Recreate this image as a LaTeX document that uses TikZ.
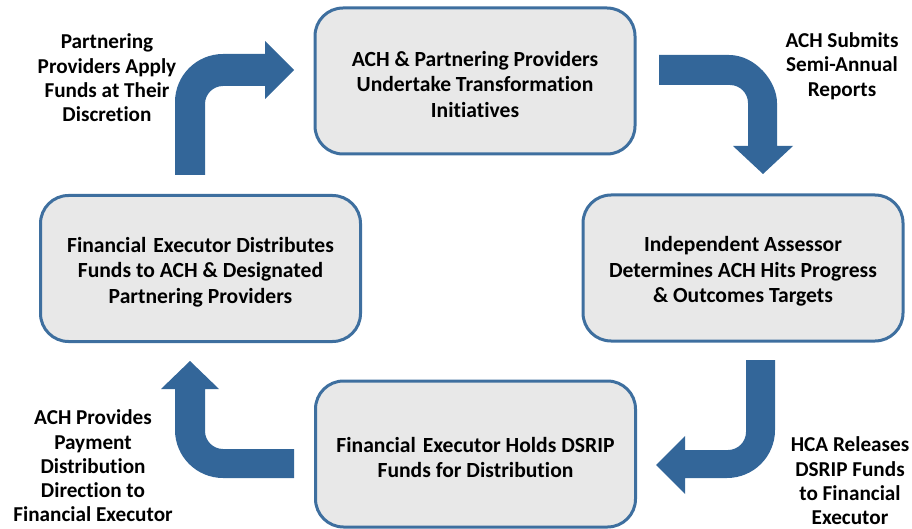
\documentclass[tikz,border=0pt]{standalone}
\usepackage{fontspec}
\setmainfont{Carlito}[Ligatures=NoCommon]
\definecolor{arrowblue}{HTML}{336699}
\definecolor{boxline}{HTML}{3E6F9F}
\definecolor{boxfill}{HTML}{E8E8E8}
\begin{document}
\begin{tikzpicture}[x=1pt,y=-1pt,
  stepbox/.style={draw=boxline, fill=boxfill, line width=3pt, rounded corners=28pt,
    minimum width=320pt, minimum height=146pt, inner sep=0pt},
  boxtext/.style={align=center, inner sep=0pt, yshift=-3.5pt,
    font=\fontsize{21.6}{25.5}\selectfont\bfseries},
  sidelabel/.style={align=center, inner sep=0pt,
    font=\fontsize{21.2}{24.3}\selectfont\bfseries},
  bentarrow/.style={fill=arrowblue, draw=none}]
\useasboundingbox (0,0) rectangle (912,529);

% boxes
\node[stepbox] (top) at (475,81) {};
\node[boxtext] (toptext) at (top.center) {ACH \& Partnering Providers\\Undertake Transformation\\Initiatives};
\node[stepbox] (right) at (743,268) {};
\node[boxtext] (righttext) at (right.center) {Independent Assessor\\Determines ACH Hits Progress\\\& Outcomes Targets};
\node[stepbox] (left) at (200.5,268.5) {};
\node[boxtext] (lefttext) at (left.center) {Financial\kern2pt{} Executor Distributes\\Funds to ACH \& Designated\\Partnering Providers};
\node[stepbox] (bottom) at (475.5,454) {};
\node[boxtext] (bottomtext) at (bottom.center) {Financial\kern2pt{} Executor Holds DSRIP\\Funds for Distribution};

% side labels
\node[sidelabel] (ltop) at (107,78) {Partnering\\Providers Apply\\Funds at Their\\Discretion};
\node[sidelabel] (rtop) at (842,66) {ACH Submits\\Semi-Annual\\Reports};
\node[sidelabel] (lbot) at (93,466) {ACH Provides\\Payment\\Distribution\\Direction to\\Financial Executor};
\node[sidelabel] (rbot) at (850,481) {HCA Releases\\DSRIP Funds\\to Financial\\Executor};

% bent arrows
% top-left: up then right
\fill[bentarrow] (175,175) -- (175,102) .. controls (175,75.5) and (196.5,54) .. (223,54)
  -- (265,54) -- (265,41) -- (294,70) -- (265,99) -- (265,86) -- (223,86)
  .. controls (213.1,86) and (205,94.1) .. (205,104) -- (205,175) -- cycle;
% top-right: right then down
\fill[bentarrow] (659,55) -- (729,55) .. controls (755.5,55) and (777,81.5) .. (777,103)
  -- (777,146) -- (793,146) -- (763,174) -- (733,146) -- (748,146) -- (748,103)
  .. controls (748,93.1) and (739.9,85) .. (730,85) -- (659,85) -- cycle;
% bottom-right: down then left
\fill[bentarrow] (746,360) -- (775,360) -- (775,430) .. controls (775,456.5) and (753.5,478) .. (727,478)
  -- (685,478) -- (685,494) -- (656,465) -- (685,436) -- (685,450) -- (728,450)
  .. controls (737.9,450) and (746,441.9) .. (746,432) -- cycle;
% bottom-left: left then up
\fill[bentarrow] (294,449) -- (223,449) .. controls (213.1,449) and (205,440.9) .. (205,431)
  -- (205,389) -- (219,389) -- (190,361) -- (161,389) -- (175,389) -- (175,430)
  .. controls (175,456.5) and (196.5,478) .. (223,478) -- (294,478) -- cycle;
\end{tikzpicture}
\end{document}
